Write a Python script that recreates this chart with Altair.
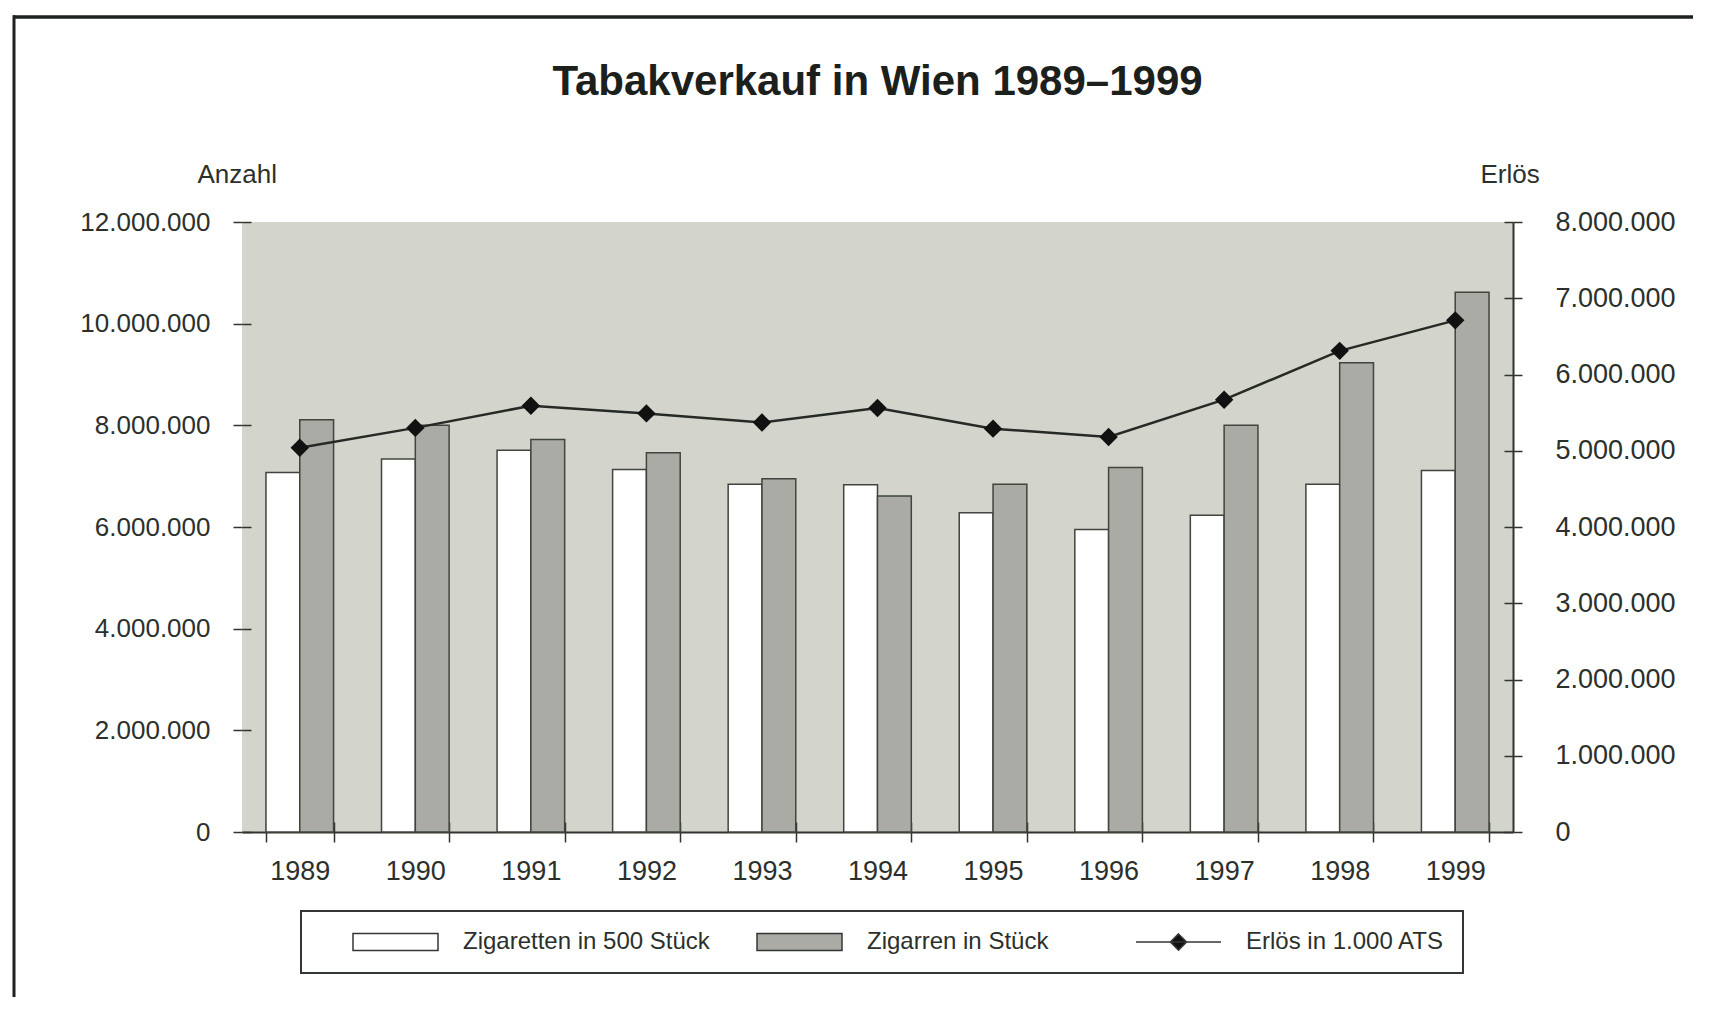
import altair as alt
import pandas as pd

# ---- data ----
years = ["1989", "1990", "1991", "1992", "1993", "1994", "1995", "1996", "1997", "1998", "1999"]
zigaretten = [7070000, 7340000, 7510000, 7130000, 6840000, 6830000, 6280000, 5950000, 6230000, 6840000, 7110000]
zigarren = [8110000, 8000000, 7720000, 7460000, 6950000, 6610000, 6840000, 7170000, 8000000, 9230000, 10620000]
erloes = [5040000, 5300000, 5590000, 5490000, 5370000, 5560000, 5290000, 5180000, 5670000, 6310000, 6710000]
# trailing no-break spaces (kept by a zero-width char) widen the middle legend column invisibly
series_names = ["Zigaretten in 500 Stück", "Zigarren in Stück" + "\u00a0" * 6 + "\u200b", "Erlös in 1.000 ATS"]
left_ticks = [0, 2000000, 4000000, 6000000, 8000000, 10000000, 12000000]
right_ticks = [0, 1000000, 2000000, 3000000, 4000000, 5000000, 6000000, 7000000, 8000000]

bars_df = pd.DataFrame({
    "year": years * 2,
    "series": [series_names[0]] * len(years) + [series_names[1]] * len(years),
    "value": zigaretten + zigarren,
})
line_df = pd.DataFrame({"year": years, "erloes": erloes})

TXT = "#2c302c"
DARK = "#30342f"
FONT = "Liberation Sans"
dot_fmt = "replace(format(datum.value, ','), regexp(',', 'g'), '.')"

W, H = 1271, 610

x_scale = alt.Scale(paddingInner=0.415, paddingOuter=0.2075)
x_axis = alt.Axis(title=None, labelAngle=0, labelFontSize=27, labelColor=TXT,
                  labelPadding=16, tickBand="extent", tickSize=10, tickWidth=1.5,
                  tickColor=DARK, domainColor=DARK, domainWidth=2,
                  grid=True, gridDash=[0, H - 10, 10, 4000], gridColor=DARK, gridWidth=1.5)

bars = alt.Chart(bars_df).mark_bar(stroke="#40453f", strokeWidth=1.5).encode(
    x=alt.X("year:N", sort=years, scale=x_scale, axis=x_axis),
    xOffset=alt.XOffset("series:N", scale=alt.Scale(domain=series_names[:2], paddingInner=0, paddingOuter=0)),
    y=alt.Y("value:Q",
            scale=alt.Scale(domain=[0, 12000000], nice=False),
            axis=alt.Axis(values=left_ticks, labelExpr=dot_fmt, title="Anzahl", titleAngle=0,
                          titleX=-45, titleY=-48, titleAlign="left", titleBaseline="middle",
                          titleFontSize=26, titleFontWeight="normal", titleColor=TXT,
                          labelFontSize=26, labelColor=TXT, labelPadding=23,
                          domain=False, tickSize=9, tickWidth=1.5, tickColor=DARK,
                          grid=True, gridDash=[9, 4000], gridColor=DARK, gridWidth=1.5)),
    fill=alt.Fill("series:N",
                  scale=alt.Scale(domain=series_names, range=["#ffffff", "#a9aba4", "#111111"]),
                  legend=alt.Legend(
                      title=" ", titleOrient="left", titlePadding=33, titleFontSize=2,
                      orient="none", legendX=59, legendY=689,
                      direction="horizontal", columns=3, columnPadding=46,
                      symbolType={"expr": "datum.index == 2 ? 'M-1,0H1M0,-0.19L0.19,0L0,0.19L-0.19,0Z' : 'M-1,-0.2H1V0.2H-1Z'"},
                      symbolSize=7225, symbolStrokeColor="#333733", symbolStrokeWidth=1.5,
                      symbolOpacity=1, clipHeight=26,
                      labelFontSize=24, labelColor=TXT, labelOffset=24, labelLimit=500,
                      strokeColor="#333733", padding=18, fillColor="#ffffff")),
)

line = alt.Chart(line_df).mark_line(
    color="#262a26", strokeWidth=2.5,
    point=alt.OverlayMarkDef(shape="diamond", size=340, filled=True, color="#111111"),
).encode(
    x=alt.X("year:N", sort=years, scale=x_scale, axis=x_axis),
    y=alt.Y("erloes:Q",
            scale=alt.Scale(domain=[0, 8000000], nice=False),
            axis=alt.Axis(orient="right", values=right_ticks, labelExpr=dot_fmt, title="Erlös",
                          titleAngle=0, titleX=-33, titleY=-48, titleAlign="left",
                          titleBaseline="middle", titleFontSize=26, titleFontWeight="normal",
                          titleColor=TXT, labelFontSize=27, labelColor=TXT, labelPadding=33,
                          domain=True, domainColor=DARK, domainWidth=2,
                          tickSize=9, tickWidth=1.5, tickColor=DARK,
                          grid=True, gridDash=[9, 4000], gridColor=DARK, gridWidth=1.5)),
)

one = pd.DataFrame({"k": [0]})
frame_top = alt.Chart(one).mark_rule(color="#1e221e", strokeWidth=3.5).encode(
    x=alt.value(-229), x2=alt.value(1451), y=alt.value(-205))
frame_left = alt.Chart(one).mark_rule(color="#1e221e", strokeWidth=3).encode(
    x=alt.value(-228), y=alt.value(-206.7), y2=alt.value(775))

chart = alt.layer(bars, line, frame_top, frame_left).resolve_scale(
    y="independent"
).properties(
    width=W, height=H,
    padding={"left": 234, "top": 214, "right": 180, "bottom": 165},
    autosize=alt.AutoSizeParams(type="none"),
    title=alt.TitleParams("Tabakverkauf in Wien 1989–1999", fontSize=42, fontWeight="bold",
                          font=FONT, color="#1c201c", anchor="middle", frame="group",
                          baseline="alphabetic", offset=-123),
).configure(font=FONT).configure_view(fill="#d3d4cb", stroke=None).configure_legend(strokeWidth=2)

chart.save("out.html", embed_options={"renderer": "svg", "actions": False})
